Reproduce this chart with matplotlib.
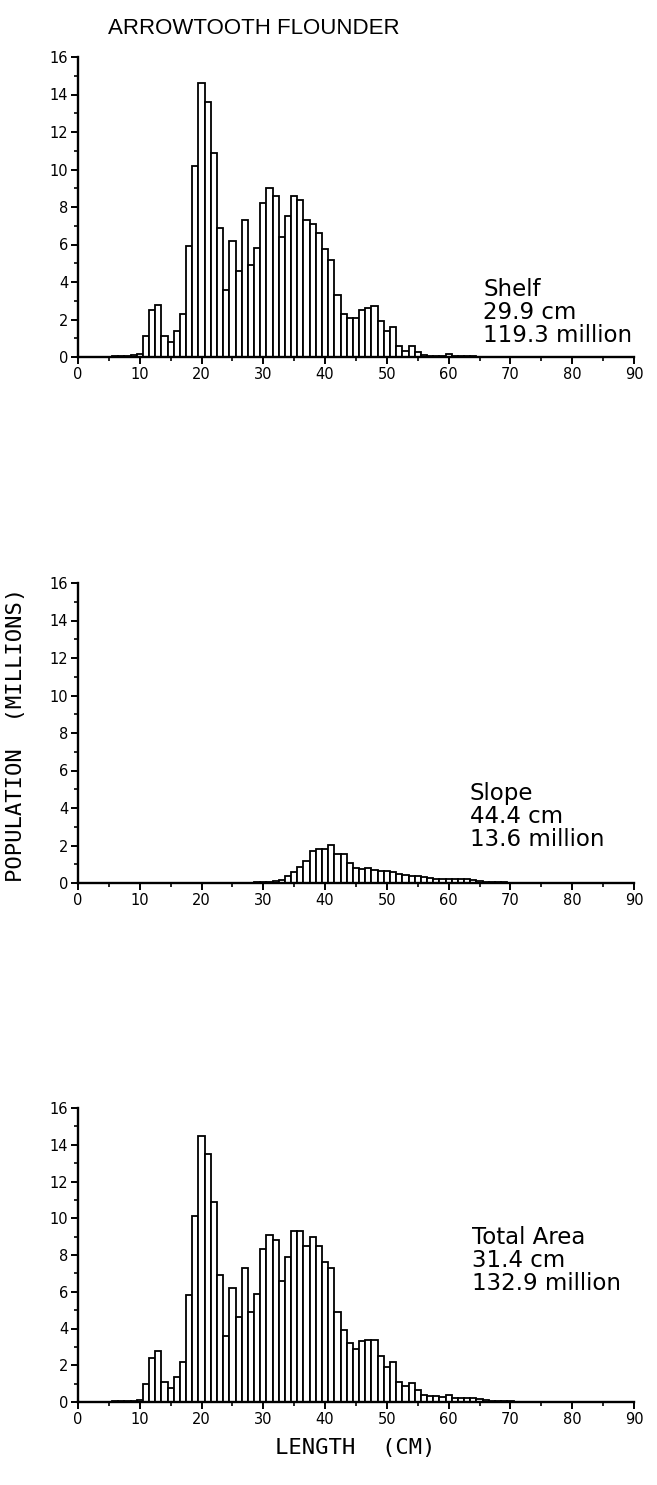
import matplotlib
matplotlib.use("Agg")
import matplotlib.pyplot as plt
import numpy as np

# ---------------- data ----------------
lengths = list(range(1, 91))

shelf_vals = {
    5: 0.02, 6: 0.03, 7: 0.05, 8: 0.07, 9: 0.1, 10: 0.18,
    11: 1.1, 12: 2.5, 13: 2.8, 14: 1.1, 15: 0.8, 16: 1.4, 17: 2.3,
    18: 5.9, 19: 10.2, 20: 14.6, 21: 13.6, 22: 10.9, 23: 6.9, 24: 3.6,
    25: 6.2, 26: 4.6, 27: 7.3, 28: 4.9, 29: 5.8, 30: 8.2, 31: 9.0,
    32: 8.6, 33: 6.4, 34: 7.5, 35: 8.6, 36: 8.4, 37: 7.3, 38: 7.1,
    39: 6.6, 40: 5.75, 41: 5.2, 42: 3.3, 43: 2.3, 44: 2.1, 45: 2.1,
    46: 2.5, 47: 2.6, 48: 2.7, 49: 1.9, 50: 1.4, 51: 1.6, 52: 0.6,
    53: 0.3, 54: 0.6, 55: 0.25, 56: 0.1, 57: 0.08, 58: 0.06, 59: 0.08,
    60: 0.15, 61: 0.05, 62: 0.04, 63: 0.03, 64: 0.03, 65: 0.02,
}

slope_vals = {
    28: 0.02, 29: 0.03, 30: 0.05, 31: 0.07, 32: 0.1, 33: 0.16,
    34: 0.35, 35: 0.6, 36: 0.87, 37: 1.16, 38: 1.72, 39: 1.84, 40: 1.84,
    41: 2.05, 42: 1.56, 43: 1.53, 44: 1.05, 45: 0.8, 46: 0.76, 47: 0.79,
    48: 0.71, 49: 0.66, 50: 0.63, 51: 0.6, 52: 0.5, 53: 0.43, 54: 0.4,
    55: 0.35, 56: 0.32, 57: 0.27, 58: 0.22, 59: 0.19, 60: 0.19, 61: 0.19,
    62: 0.19, 63: 0.19, 64: 0.18, 65: 0.12, 66: 0.08, 67: 0.06, 68: 0.04,
    69: 0.03, 70: 0.02,
}

total_vals = {
    5: 0.02, 6: 0.03, 7: 0.04, 8: 0.05, 9: 0.08, 10: 0.12,
    11: 1.0, 12: 2.4, 13: 2.8, 14: 1.1, 15: 0.76, 16: 1.34, 17: 2.2,
    18: 5.8, 19: 10.1, 20: 14.5, 21: 13.5, 22: 10.9, 23: 6.9, 24: 3.6,
    25: 6.2, 26: 4.6, 27: 7.3, 28: 4.9, 29: 5.9, 30: 8.3, 31: 9.1,
    32: 8.8, 33: 6.6, 34: 7.9, 35: 9.3, 36: 9.3, 37: 8.5, 38: 9.0,
    39: 8.5, 40: 7.6, 41: 7.3, 42: 4.9, 43: 3.9, 44: 3.2, 45: 2.9,
    46: 3.3, 47: 3.4, 48: 3.4, 49: 2.5, 50: 1.9, 51: 2.2, 52: 1.1,
    53: 0.85, 54: 1.05, 55: 0.64, 56: 0.4, 57: 0.35, 58: 0.32, 59: 0.27,
    60: 0.4, 61: 0.24, 62: 0.21, 63: 0.21, 64: 0.21, 65: 0.16, 66: 0.1,
    67: 0.06, 68: 0.05, 69: 0.04, 70: 0.03,
}

panel_labels = ["Shelf\n29.9 cm\n119.3 million",
                "Slope\n44.4 cm\n13.6 million",
                "Total Area\n31.4 cm\n132.9 million"]
label_pos = [(65.6, 4.2), (63.4, 5.4), (63.8, 9.6)]

yticks_major = [0, 2, 4, 6, 8, 10, 12, 14, 16]
xticks_major = [0, 10, 20, 30, 40, 50, 60, 70, 80, 90]

title = "ARROWTOOTH FLOUNDER"
ylabel = "POPULATION  (MILLIONS)"
xlabel = "LENGTH  (CM)"


def series(d):
    return [d.get(L, 0.01) for L in lengths]


# ---------------- figure ----------------
W, H = 657, 1485
fig = plt.figure(figsize=(W / 100, H / 100), dpi=100)

left = 78 / W
width = 556 / W
panel_px = [(57, 357), (583, 883), (1108, 1402)]  # (y of 16, y of 0)

tick_font = "DejaVu Sans"
ann_font = "DejaVu Sans"
mono_font = "DejaVu Sans Mono"

all_series = [series(shelf_vals), series(slope_vals), series(total_vals)]

for i, (vals, (ytop, ybot)) in enumerate(zip(all_series, panel_px)):
    ax = fig.add_axes([left, 1 - ybot / H, width, (ybot - ytop) / H])
    ax.bar(lengths, vals, width=1.0, color="white", edgecolor="black",
           linewidth=1.3, align="center")
    ax.set_xlim(0, 90)
    ax.set_ylim(0, 16)
    for s in ["top", "right"]:
        ax.spines[s].set_visible(False)
    for s in ["left", "bottom"]:
        ax.spines[s].set_linewidth(1.7)
    ax.set_yticks(yticks_major)
    ax.set_yticks(np.arange(0, 17, 1), minor=True)
    ax.set_xticks(xticks_major)
    ax.set_xticks(np.arange(0, 91, 5), minor=True)
    ax.tick_params(axis="both", which="major", direction="out", length=5,
                   width=1.4, labelsize=10.5, pad=2)
    ax.tick_params(axis="both", which="minor", direction="out", length=3,
                   width=1.2)
    for lab in ax.get_xticklabels() + ax.get_yticklabels():
        lab.set_fontfamily(tick_font)
    x, y = label_pos[i]
    ax.text(x, y, panel_labels[i], fontsize=16.5, family=ann_font,
            va="top", ha="left", linespacing=1.0)

fig.text(108 / W, 1 - 28 / H, title, fontsize=16, family="Liberation Sans",
         ha="left", va="center")
fig.text(16 / W, 1 - 735 / H, ylabel, fontsize=16, family=mono_font,
         rotation=90, ha="center", va="center")
fig.text(355 / W, 1 - 1448 / H, xlabel, fontsize=16, family=mono_font,
         ha="center", va="center")

fig.savefig("out.png", dpi=100)
